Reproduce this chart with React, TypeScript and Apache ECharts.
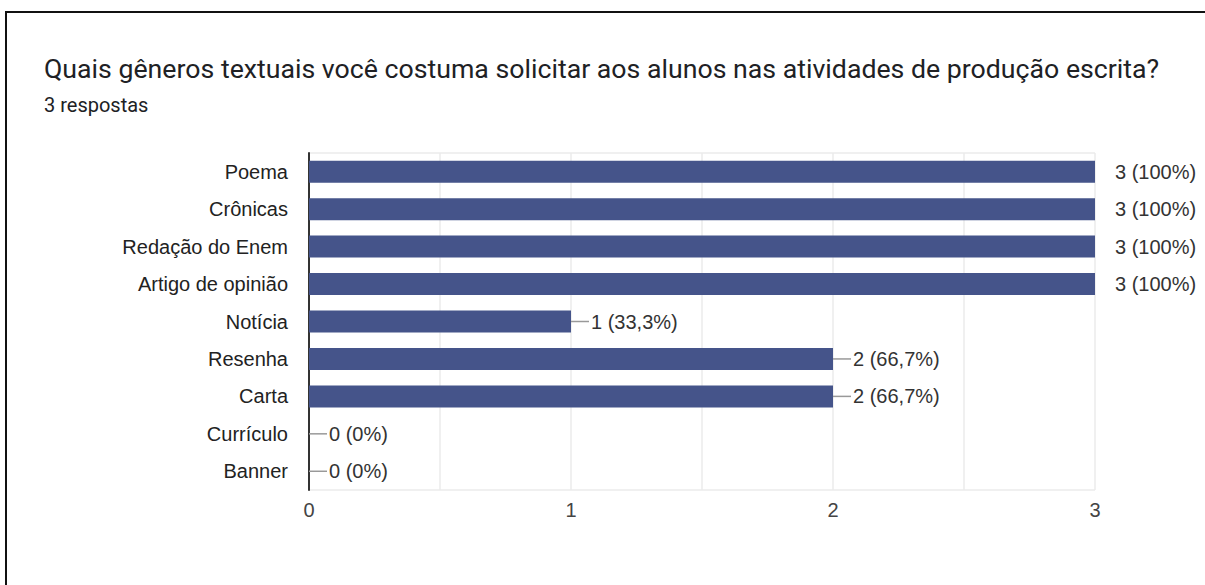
import React, { useEffect, useRef } from "react";
import * as echarts from "echarts";

const title = "Quais gêneros textuais você costuma solicitar aos alunos nas atividades de produção escrita?";
const subtitle = "3 respostas";
const categories = ["Poema", "Crônicas", "Redação do Enem", "Artigo de opinião", "Notícia", "Resenha", "Carta", "Currículo", "Banner"];
const counts = [3, 3, 3, 3, 1, 2, 2, 0, 0];
const percents = ["100%", "100%", "100%", "100%", "33,3%", "66,7%", "66,7%", "0%", "0%"];
const xTicks = [0, 1, 2, 3];

const BAR = "#45548a";
const LABEL_FONT = "'Liberation Sans', Arial, sans-serif";

export default function App() {
  const ref = useRef<HTMLDivElement>(null);
  useEffect(() => {
    if (!ref.current) return;
    const chart = echarts.init(ref.current, undefined, { renderer: "svg" });
    chart.setOption({
      animation: false,
      backgroundColor: "#ffffff",
      grid: { left: 309, right: 110, top: 153, bottom: 95, containLabel: false },
      xAxis: {
        type: "value",
        min: xTicks[0],
        max: xTicks[xTicks.length - 1],
        interval: 1,
        axisLine: { show: false },
        axisTick: { show: false },
        axisLabel: { color: "#444", fontSize: 20, fontFamily: LABEL_FONT, margin: 10 },
        splitLine: { show: true, lineStyle: { color: "#ebebeb", width: 1.5 } },
        minorTick: { show: false, splitNumber: 2 },
        minorSplitLine: { show: true, lineStyle: { color: "#ebebeb", width: 1.5 } },
      },
      yAxis: {
        type: "category",
        data: categories,
        inverse: true,
        axisLine: { show: true, lineStyle: { color: "#333", width: 2 } },
        axisTick: { show: false },
        axisLabel: { color: "#222", fontSize: 20, fontFamily: LABEL_FONT, margin: 21 },
        splitLine: { show: false },
      },
      graphic: [
        { type: "line", shape: { x1: 5, y1: 12, x2: 1205, y2: 12 }, style: { stroke: "#111", lineWidth: 2 } },
        { type: "line", shape: { x1: 6, y1: 12, x2: 6, y2: 585 }, style: { stroke: "#111", lineWidth: 2 } },
        { type: "line", shape: { x1: 309, y1: 153, x2: 1095, y2: 153 }, style: { stroke: "#ebebeb", lineWidth: 1.5 } },
        { type: "line", shape: { x1: 309, y1: 490, x2: 1095, y2: 490 }, style: { stroke: "#ebebeb", lineWidth: 1.5 } },
        {
          type: "text", left: 44, top: 55,
          style: { text: title, fill: "#202124", font: "400 26.7px Roboto, 'Noto Sans', sans-serif" },
        },
        {
          type: "text", left: 44, top: 95,
          style: { text: subtitle, fill: "#202124", font: "400 20px Roboto, 'Noto Sans', sans-serif" },
        },
      ],
      series: [
        {
          type: "bar",
          data: counts,
          barWidth: 22,
          itemStyle: { color: BAR },
          label: {
            show: true,
            position: "right",
            distance: 20,
            color: "#333",
            fontSize: 20,
            fontFamily: LABEL_FONT,
            formatter: (p: any) => `${counts[p.dataIndex]} (${percents[p.dataIndex]})`,
          },
          z: 2,
        },
        {
          type: "custom",
          clip: true,
          data: counts.map((v, i) => [v, i]),
          renderItem: (params: any, api: any) => {
            const p = api.coord([api.value(0), api.value(1)]);
            return {
              type: "line",
              shape: { x1: p[0], y1: p[1], x2: p[0] + 18, y2: p[1] },
              style: { stroke: "#999", lineWidth: 1.5 },
            };
          },
          z: 3,
          silent: true,
        },
      ],
    });
    return () => chart.dispose();
  }, []);
  return <div ref={ref} style={{ position: "absolute", left: 0, top: 0, width: 1205, height: 585 }} />;
}
